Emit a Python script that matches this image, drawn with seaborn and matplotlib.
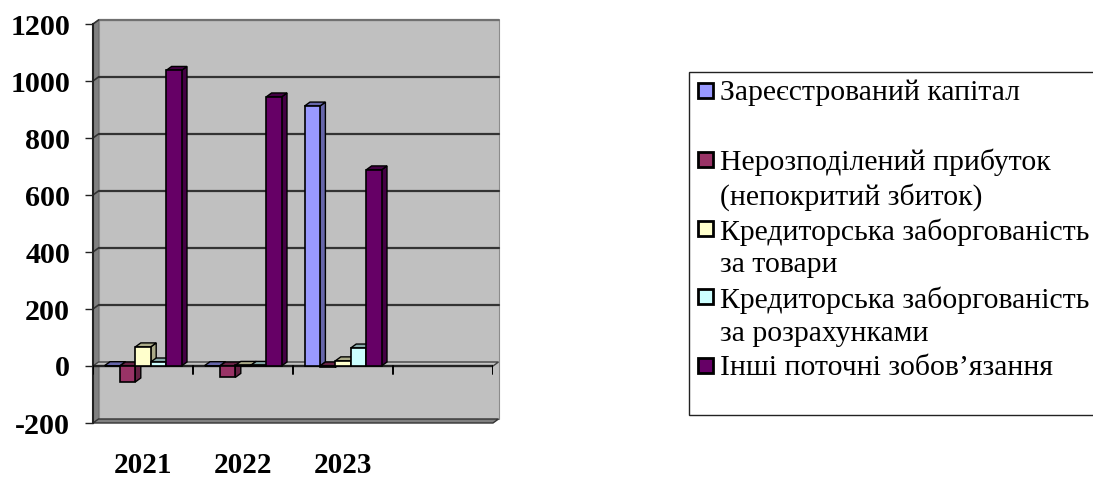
import matplotlib
matplotlib.use("Agg")
import matplotlib.pyplot as plt
from matplotlib.patches import Polygon, Rectangle
from matplotlib.transforms import ScaledTranslation
import numpy as np
import pandas as pd
import seaborn as sns

years = ["2021", "2022", "2023", ""]
series = [
    "Зареєстрований капітал",
    "Нерозподілений прибуток\n(непокритий збиток)",
    "Кредиторська заборгованість\nза товари",
    "Кредиторська заборгованість\nза розрахунками",
    "Інші поточні зобов’язання",
]
registered = [1, 1, 912, np.nan]
retained = [-56, -40, -5, np.nan]
payables_goods = [67, 2, 18, np.nan]
payables_settlements = [14, 2, 63, np.nan]
other_current = [1037, 944, 688, np.nan]
colors = ["#9999FF", "#993366", "#FFFFCC", "#CCFFFF", "#660066"]
side_colors = ["#6666AA", "#662244", "#AAAA88", "#88AAAA", "#440044"]

W, H = 1093, 479
DPI = 100
DX, DY = 5.5, 4

sns.set_theme(style="white")
plt.rcParams["font.family"] = ["Liberation Serif", "DejaVu Serif"]

frame = pd.DataFrame({
    "year": np.repeat(years, 5),
    "series": series * 4,
    "value": np.array([registered, retained, payables_goods,
                       payables_settlements, other_current]).T.ravel(),
})

fig = plt.figure(figsize=(W / DPI, H / DPI), dpi=DPI)
ax = fig.add_axes([93 / W, 1 - 423 / H, 400 / W, 399 / H])
ax.patch.set_visible(False)
sns.barplot(data=frame, x="year", y="value", hue="series", order=years,
            hue_order=series, palette=colors, gap=0, width=0.77,
            edgecolor="black", linewidth=1.2, saturation=1, legend=False,
            zorder=5, ax=ax)
ax.set_xlim(-0.5, 3.5)
ax.set_ylim(-200, 1200)

back = ax.transData + ScaledTranslation(DX / DPI, DY / DPI, fig.dpi_scale_trans)


def slab(p, q):
    """Quadrilateral running from the front edge p-q to the back wall."""
    return np.array([p, q, (q[0] + DX, q[1] + DY), (p[0] + DX, p[1] + DY)])


# Back wall, side wall and floor of the box
ax.add_patch(Rectangle((-0.5, -200), 4, 1400, facecolor="#C0C0C0", transform=back,
                       edgecolor="#8c8c8c", linewidth=0.8, zorder=0, clip_on=False))
ax.plot([-0.5, 3.5], [1200, 1200], color="#707070", lw=1.6, transform=back,
        zorder=1, clip_on=False)
bl, tl = ax.transData.transform([(-0.5, -200), (-0.5, 1200)])
ax.add_patch(Polygon(slab(bl, tl), transform=None, facecolor="#808080",
                     edgecolor="#666666", linewidth=0.6, zorder=1, clip_on=False))
fl, fr = ax.transData.transform([(-0.5, -200), (3.5, -200)])
ax.add_patch(Polygon(slab(fl, fr), transform=None, facecolor="#808080",
                     edgecolor="#333333", linewidth=1.0, zorder=1, clip_on=False))

# Gridlines on the back wall, bending down the side wall to the axis
for v in [1000, 800, 600, 400, 200]:
    ax.plot([-0.5, 3.5], [v, v], color="#333333", lw=1.6, transform=back,
            zorder=1, clip_on=False)
for v in [1200, 1000, 800, 600, 400, 200]:
    p = ax.transData.transform((-0.5, v))
    ax.plot([p[0], p[0] + DX], [p[1], p[1] + DY], color="#333333", lw=1.2,
            transform=None, zorder=2, clip_on=False)

# Zero plane running from the front axis to the back wall
zl, zr = ax.transData.transform([(-0.5, 0), (3.5, 0)])
ax.add_patch(Polygon(slab(zl, zr), transform=None, facecolor="#C4C4C4",
                     edgecolor="#444444", linewidth=1.0, zorder=2, clip_on=False))

# Extrude every bar to give it a top and a side face
for container, shade in zip(ax.containers, side_colors):
    for bar in container:
        h = bar.get_height()
        if not np.isfinite(h):
            continue
        x0, x1 = bar.get_x(), bar.get_x() + bar.get_width()
        (a, b), (c, d) = ax.transData.transform([(x0, min(0, h)), (x1, max(0, h))])
        for face in (slab((c, b), (c, d)), slab((a, d), (c, d))):
            ax.add_patch(Polygon(face, transform=None, facecolor=shade,
                                 edgecolor="black", linewidth=1.0, zorder=4,
                                 clip_on=False))
        bar.set_clip_on(False)

# Axis lines, ticks and labels
sns.despine(ax=ax, top=True, right=True, bottom=True)
ax.spines["left"].set_color("#222222")
ax.spines["left"].set_linewidth(1.5)
ax.axhline(0, color="#222222", lw=1.7, zorder=3)
ax.set_yticks(np.arange(-200, 1201, 200))
ax.set_yticklabels([str(v) for v in np.arange(-200, 1201, 200)],
                   fontsize=21.6, fontweight="bold", color="black")
ax.tick_params(axis="y", left=True, length=5.5, width=1.0, color="#222222", pad=11)
ax.set_xlabel("")
ax.set_ylabel("")
ax.set_xticks([0, 1, 2])
ax.set_xticklabels(years[:3], fontsize=21, fontweight="bold", color="black")
ax.tick_params(axis="x", bottom=False, length=0, pad=21)
for t in np.arange(-0.5, 3.6, 1):
    ax.plot([t, t], [0, -28], color="black", lw=1.4, zorder=3)

# Legend box with square keys
fig.add_artist(Rectangle((689 / W, 1 - 415 / H), 409 / W, 343 / H,
                         transform=fig.transFigure, facecolor="white",
                         edgecolor="#222222", linewidth=1.0))
key_centers = [90, 159, 228, 296, 365]
text_centers = [92, 161, 230, 299, 367]
for name, color, y, ty in zip(series, colors, key_centers, text_centers):
    fig.add_artist(Rectangle((698 / W, 1 - (y + 7.5) / H), 15 / W, 15 / H,
                             transform=fig.transFigure, facecolor=color,
                             edgecolor="black", linewidth=2.0))
    fig.text(720 / W, 1 - (ty - 12) / H, name, ha="left", va="top", fontsize=21.4,
             linespacing=1.33, color="black")

fig.savefig("out.png", dpi=DPI, facecolor="white")
